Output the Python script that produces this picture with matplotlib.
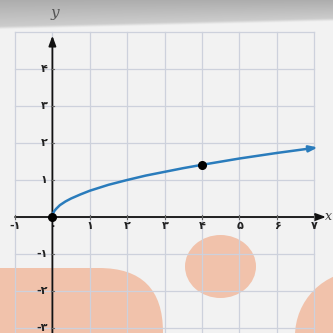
import numpy as np
import matplotlib
matplotlib.use("Agg")
import matplotlib.pyplot as plt
from matplotlib.patches import Ellipse, FancyBboxPatch

# curve samples (x, y) along the graph
curve_x = [0, 0.02, 0.05, 0.1, 0.2, 0.35, 0.5, 0.75, 1.0, 1.5, 2.0, 2.5, 3.0, 3.5, 4.0, 5.0, 6.0, 7.1]
curve_y = [0, 0.10, 0.16, 0.22, 0.32, 0.42, 0.50, 0.61, 0.71, 0.87, 1.00, 1.12, 1.22, 1.32, 1.41, 1.58, 1.73, 1.88]
marked_x = [0, 4]
marked_y = [0, 1.41]

x_ticks = [-1, 0, 1, 2, 3, 4, 5, 6, 7]
x_tick_labels = ['-۱', '۰', '۱', '۲', '۳', '۴', '۵', '۶', '۷']
y_ticks = [-3, -2, -1, 1, 2, 3, 4]
y_tick_labels = ['-۳', '-۲', '-۱', '۱', '۲', '۳', '۴']

W = H = 333
fig = plt.figure(figsize=(3.33, 3.33), dpi=100)
fig.patch.set_facecolor('#f2f2f2')
ax = fig.add_axes([0, 0, 1, 1])
ax.set_facecolor('#f2f2f2')
ax.axis('off')

# pixel scale of the sheet
ux, x0 = 37.375, 52.4
uy, y0 = 37.0, 217.0
ax.set_xlim(-x0 / ux, (W - x0) / ux)
ax.set_ylim(-(H - y0) / uy, y0 / uy)


def px(xp, yp):
    return (xp - x0) / ux, (y0 - yp) / uy


# grey band along the top edge
band = np.ones((80, 200))
for j in range(200):
    edge = 26 - 8 * j / 199
    for i in range(80):
        yy = i * 40 / 80
        if yy < edge:
            band[i, j] = 0.68 + 0.12 * yy / edge
        elif yy < edge + 3:
            band[i, j] = 0.80 + 0.15 * (yy - edge) / 3
        else:
            band[i, j] = 0.95
band_rgb = np.dstack([band, band, band])
bx0, by0 = px(0, 0)
bx1, by1 = px(W, 40)
ax.imshow(band_rgb, extent=[bx0, bx1, by1, by0], aspect='auto',
          interpolation='bilinear', zorder=0)

# salmon blobs
pink = '#f1c2ab'
cx, cy = px(220.5, 266.5)
ax.add_patch(Ellipse((cx, cy), 71 / ux, 63 / uy, color=pink, lw=0, zorder=1))
cx, cy = px(360, 336)
ax.add_patch(Ellipse((cx, cy), 130 / ux, 130 / uy, color=pink, lw=0, zorder=1))
bl_x, bl_y = px(-80, 420)
tr_x, tr_y = px(163, 268)
rad = 64
ax.add_patch(FancyBboxPatch((bl_x, bl_y), tr_x - bl_x - rad / ux, tr_y - bl_y - rad / uy,
                            boxstyle="round,pad=%f" % (rad / ux),
                            mutation_aspect=ux / uy,
                            color=pink, lw=0, zorder=1))

# grid
grid_c = '#cdd1dc'
for gx in range(-1, 8):
    ax.plot([gx, gx], [-3.2, 5], color=grid_c, lw=0.9, zorder=2)
for gy in range(-3, 6):
    ax.plot([-1, 7], [gy, gy], color=grid_c, lw=0.9, zorder=2)

# axes with arrows
ax.annotate('', xy=(7.32, 0), xytext=(-1, 0),
            arrowprops=dict(arrowstyle='-|>,head_length=0.6,head_width=0.22',
                            color='#111111', lw=1.3, shrinkA=0, shrinkB=0), zorder=4)
ax.annotate('', xy=(0, 4.9), xytext=(0, -3.2),
            arrowprops=dict(arrowstyle='-|>,head_length=0.6,head_width=0.22',
                            color='#111111', lw=1.3, shrinkA=0, shrinkB=0), zorder=4)

# tick marks and labels
font = dict(family='DejaVu Sans', fontweight='bold', fontsize=8, color='#222222')
for t, lab in zip(x_ticks, x_tick_labels):
    if t != 0:
        ax.plot([t, t], [-0.05, 0.05], color='#666666', lw=0.8, zorder=4)
    ax.text(t + 0.01, -0.1, lab, ha='center', va='top', **font)
for t, lab in zip(y_ticks, y_tick_labels):
    ax.plot([-0.05, 0.05], [t, t], color='#666666', lw=0.8, zorder=4)
    ax.text(-0.13, t, lab, ha='right', va='center', **font)

ax.text(*px(55, 13), 'y', ha='center', va='center', fontsize=11, style='italic',
        family='DejaVu Serif', color='#555555', zorder=5)
ax.text(*px(324.5, 217), 'x', ha='left', va='center', fontsize=9, style='italic',
        family='DejaVu Serif', color='#333333', zorder=5)

# the curve
line_c = '#2a7cbc'
ax.plot(curve_x[:-1], curve_y[:-1], color=line_c, lw=1.8, zorder=5,
        solid_capstyle='butt')
ax.annotate('', xy=(curve_x[-1], curve_y[-1]), xytext=(curve_x[-2], curve_y[-2]),
            arrowprops=dict(arrowstyle='-|>,head_length=0.5,head_width=0.18',
                            color=line_c, lw=1.8, shrinkA=0, shrinkB=0), zorder=5)
ax.plot(marked_x, marked_y, 'o', color='#000000', ms=5.5, zorder=6)

fig.savefig('out.png', dpi=100)
